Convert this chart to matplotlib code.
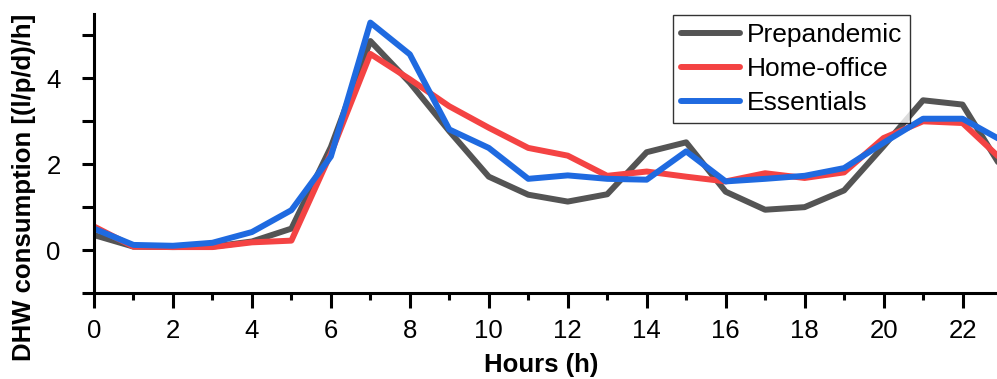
import matplotlib
matplotlib.use("Agg")
import matplotlib.pyplot as plt
from matplotlib.ticker import MultipleLocator

plt.rcParams['font.family'] = ['Liberation Sans', 'DejaVu Sans']

# Hourly DHW consumption profiles
hours = list(range(24))
prepandemic = [0.35, 0.08, 0.07, 0.08, 0.20, 0.50, 2.40, 4.87, 3.90, 2.77,
               1.71, 1.29, 1.13, 1.30, 2.28, 2.51, 1.36, 0.94, 1.00, 1.39,
               2.42, 3.49, 3.39, 1.90]
home_office = [0.55, 0.08, 0.07, 0.07, 0.18, 0.22, 2.25, 4.57, 3.98, 3.35,
               2.85, 2.38, 2.20, 1.73, 1.83, 1.71, 1.60, 1.79, 1.68, 1.81,
               2.61, 3.00, 2.96, 2.10]
essentials = [0.50, 0.12, 0.10, 0.17, 0.42, 0.93, 2.18, 5.30, 4.56, 2.81,
              2.38, 1.66, 1.74, 1.66, 1.64, 2.30, 1.60, 1.66, 1.73, 1.91,
              2.50, 3.06, 3.06, 2.55]

fig = plt.figure(figsize=(9.97, 3.79), dpi=100)
ax = fig.add_axes([94/997, 1 - 293/379, 908/997, (293 - 14)/379])

lw = 4.3
ax.plot(hours, prepandemic, color="#545454", lw=lw, label="Prepandemic", solid_capstyle="round")
ax.plot(hours, home_office, color="#f44343", lw=lw, label="Home-office", solid_capstyle="round")
ax.plot(hours, essentials, color="#1f6ae0", lw=lw, label="Essentials", solid_capstyle="round")

ax.set_xlim(0, 23)
ax.set_ylim(-1, 5.5)
ax.xaxis.set_major_locator(MultipleLocator(2))
ax.xaxis.set_minor_locator(MultipleLocator(1))
ax.yaxis.set_major_locator(MultipleLocator(2))
ax.yaxis.set_minor_locator(MultipleLocator(1))

for s in ["top", "right"]:
    ax.spines[s].set_visible(False)
for s in ["left", "bottom"]:
    ax.spines[s].set_linewidth(2.2)

ax.tick_params(axis="x", which="major", length=11, width=2.2, labelsize=18.5, pad=8)
ax.tick_params(axis="x", which="minor", length=5, width=2.2)
ax.tick_params(axis="y", which="major", length=9, width=2.2, labelsize=18.5, pad=15)
ax.tick_params(axis="y", which="minor", length=9, width=2.2)

ax.set_xlabel("Hours (h)", fontsize=18.5, fontweight="bold")
ax.set_ylabel("DHW consumption [(l/p/d)/h]", fontsize=18.5, fontweight="bold")
ax.xaxis.set_label_coords(0.493, -0.215)
ax.yaxis.set_label_coords(-0.064, 0.38)

leg = ax.legend(loc="upper left", bbox_to_anchor=(673/997, 1 - 15/379), bbox_transform=fig.transFigure,
                fontsize=19, frameon=True, fancybox=False, edgecolor="black",
                handlelength=2.25, handletextpad=0.25, borderpad=0.3, labelspacing=0.38,
                borderaxespad=0)
leg.get_frame().set_linewidth(1.0)

fig.savefig("out.png", dpi=100)
